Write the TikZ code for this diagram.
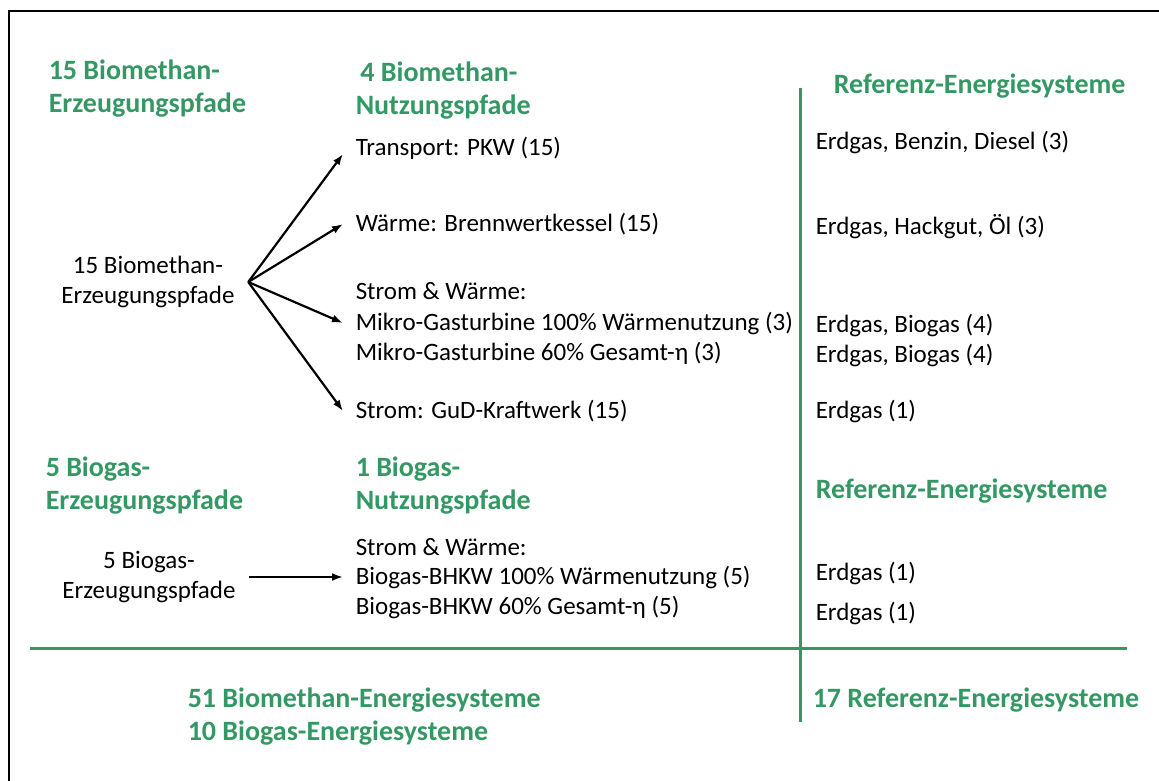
\documentclass[tikz,border=0pt]{standalone}
\usepackage{fontspec}
\setmainfont{Carlito}
\usepackage{xcolor}
\usetikzlibrary{arrows.meta}
\usetikzlibrary{positioning}
\usetikzlibrary{math}
\definecolor{gruen}{RGB}{52,152,100}

\begin{document}
\begin{tikzpicture}[x=1pt,y=-1pt,line width=1.5pt,
    txt/.style={inner sep=0pt,anchor=west,font=\fontsize{25}{30}\selectfont},
    kopf/.style={inner sep=0pt,anchor=west,align=left,text=gruen,
      font=\fontsize{28}{33}\selectfont\bfseries},
    quelle/.style={inner xsep=13pt,inner ysep=0pt,align=center,
      font=\fontsize{25}{30}\selectfont},
    pfad/.style={txt,inner xsep=12pt},
    pfeil/.style={-{Latex[length=11pt,width=8pt]},line width=2.2pt},
    trenn/.style={gruen,line width=3pt}]

  \tikzmath{
    \xa = 45;   % left column
    \xb = 343;  % usage paths
    \xc = 815;  % reference systems
  }

  % page and frame
  \useasboundingbox (0,0) rectangle (1159,780);
  \draw[line width=2pt] (8.5,800) -- (8.5,11) -- (1170,11);

  % dividing lines
  \draw[trenn] (800,88) -- (800,722);
  \draw[trenn] (30,648) -- (1127,648);

  % headings, biomethane
  \node[kopf] (bmerz) at (48,89) {15 Biomethan-\\Erzeugungspfade};
  \node[kopf] (bmnutz) at (355,91) {\,4 Biomethan-\\Nutzungspfade};
  \node[kopf] (refa) at (833,86) {Referenz-Energiesysteme};

  % biomethane paths
  \node[quelle] (bmsrc) at (148,282) {15 Biomethan-\\Erzeugungspfade};
  \node[pfad] (pkw) at (\xb,148) {Transport: PKW (15)};
  \node[pfad] (kessel) at (\xb,224) {Wärme: Brennwertkessel (15)};
  \node[txt] (kwka) at (\xb+12,291) {Strom \& Wärme:};
  \node[pfad] (mgta) at (\xb,323) {Mikro-Gasturbine 100\% Wärmenutzung (3)};
  \node[txt] (mgtb) at (\xb+12,353) {Mikro-Gasturbine 60\% Gesamt-η (3)};
  \node[pfad] (gud) at (\xb,411) {Strom: GuD-Kraftwerk (15)};

  \draw[pfeil] (bmsrc.east) -- ([yshift=-6pt]pkw.west);
  \draw[pfeil] (bmsrc.east) -- (kessel.west);
  \draw[pfeil] (bmsrc.east) -- (mgta.west);
  \draw[pfeil] (bmsrc.east) -- (gud.west);

  % reference systems, biomethane
  \node[txt] (refpkw) at (\xc,142) {Erdgas, Benzin, Diesel (3)};
  \node[txt] (refkessel) at (\xc,227) {Erdgas, Hackgut, Öl (3)};
  \node[txt] (refmgta) at (\xc,325) {Erdgas, Biogas (4)};
  \node[txt] (refmgtb) at (\xc,355) {Erdgas, Biogas (4)};
  \node[txt] (refgud) at (\xc,411) {Erdgas (1)};

  % headings, biogas
  \node[kopf] (bgerz) at (\xa,486) {5 Biogas-\\Erzeugungspfade};
  \node[kopf] (bgnutz) at (355,486) {1 Biogas-\\Nutzungspfade};
  \node[kopf] (refb) at (\xc,491) {Referenz-Energiesysteme};

  % biogas paths
  \node[quelle] (bgsrc) at (149,577) {5 Biogas-\\Erzeugungspfade};
  \node[txt] (kwkb) at (\xb+12,547) {Strom \& Wärme:};
  \node[pfad] (bhkwa) at (\xb,577) {Biogas-BHKW 100\% Wärmenutzung (5)};
  \node[txt] (bhkwb) at (\xb+12,607) {Biogas-BHKW 60\% Gesamt-η (5)};

  \draw[pfeil] (bgsrc.east) -- (bhkwa.west);

  \node[txt] (refbhkwa) at (\xc,573) {Erdgas (1)};
  \node[txt] (refbhkwb) at (\xc,613) {Erdgas (1)};

  % totals
  \node[kopf] (summe) at (187,717) {51 Biomethan-Energiesysteme\\10 Biogas-Energiesysteme};
  \node[kopf] (refsumme) at (812,700) {17 Referenz-Energiesysteme};

\end{tikzpicture}
\end{document}
